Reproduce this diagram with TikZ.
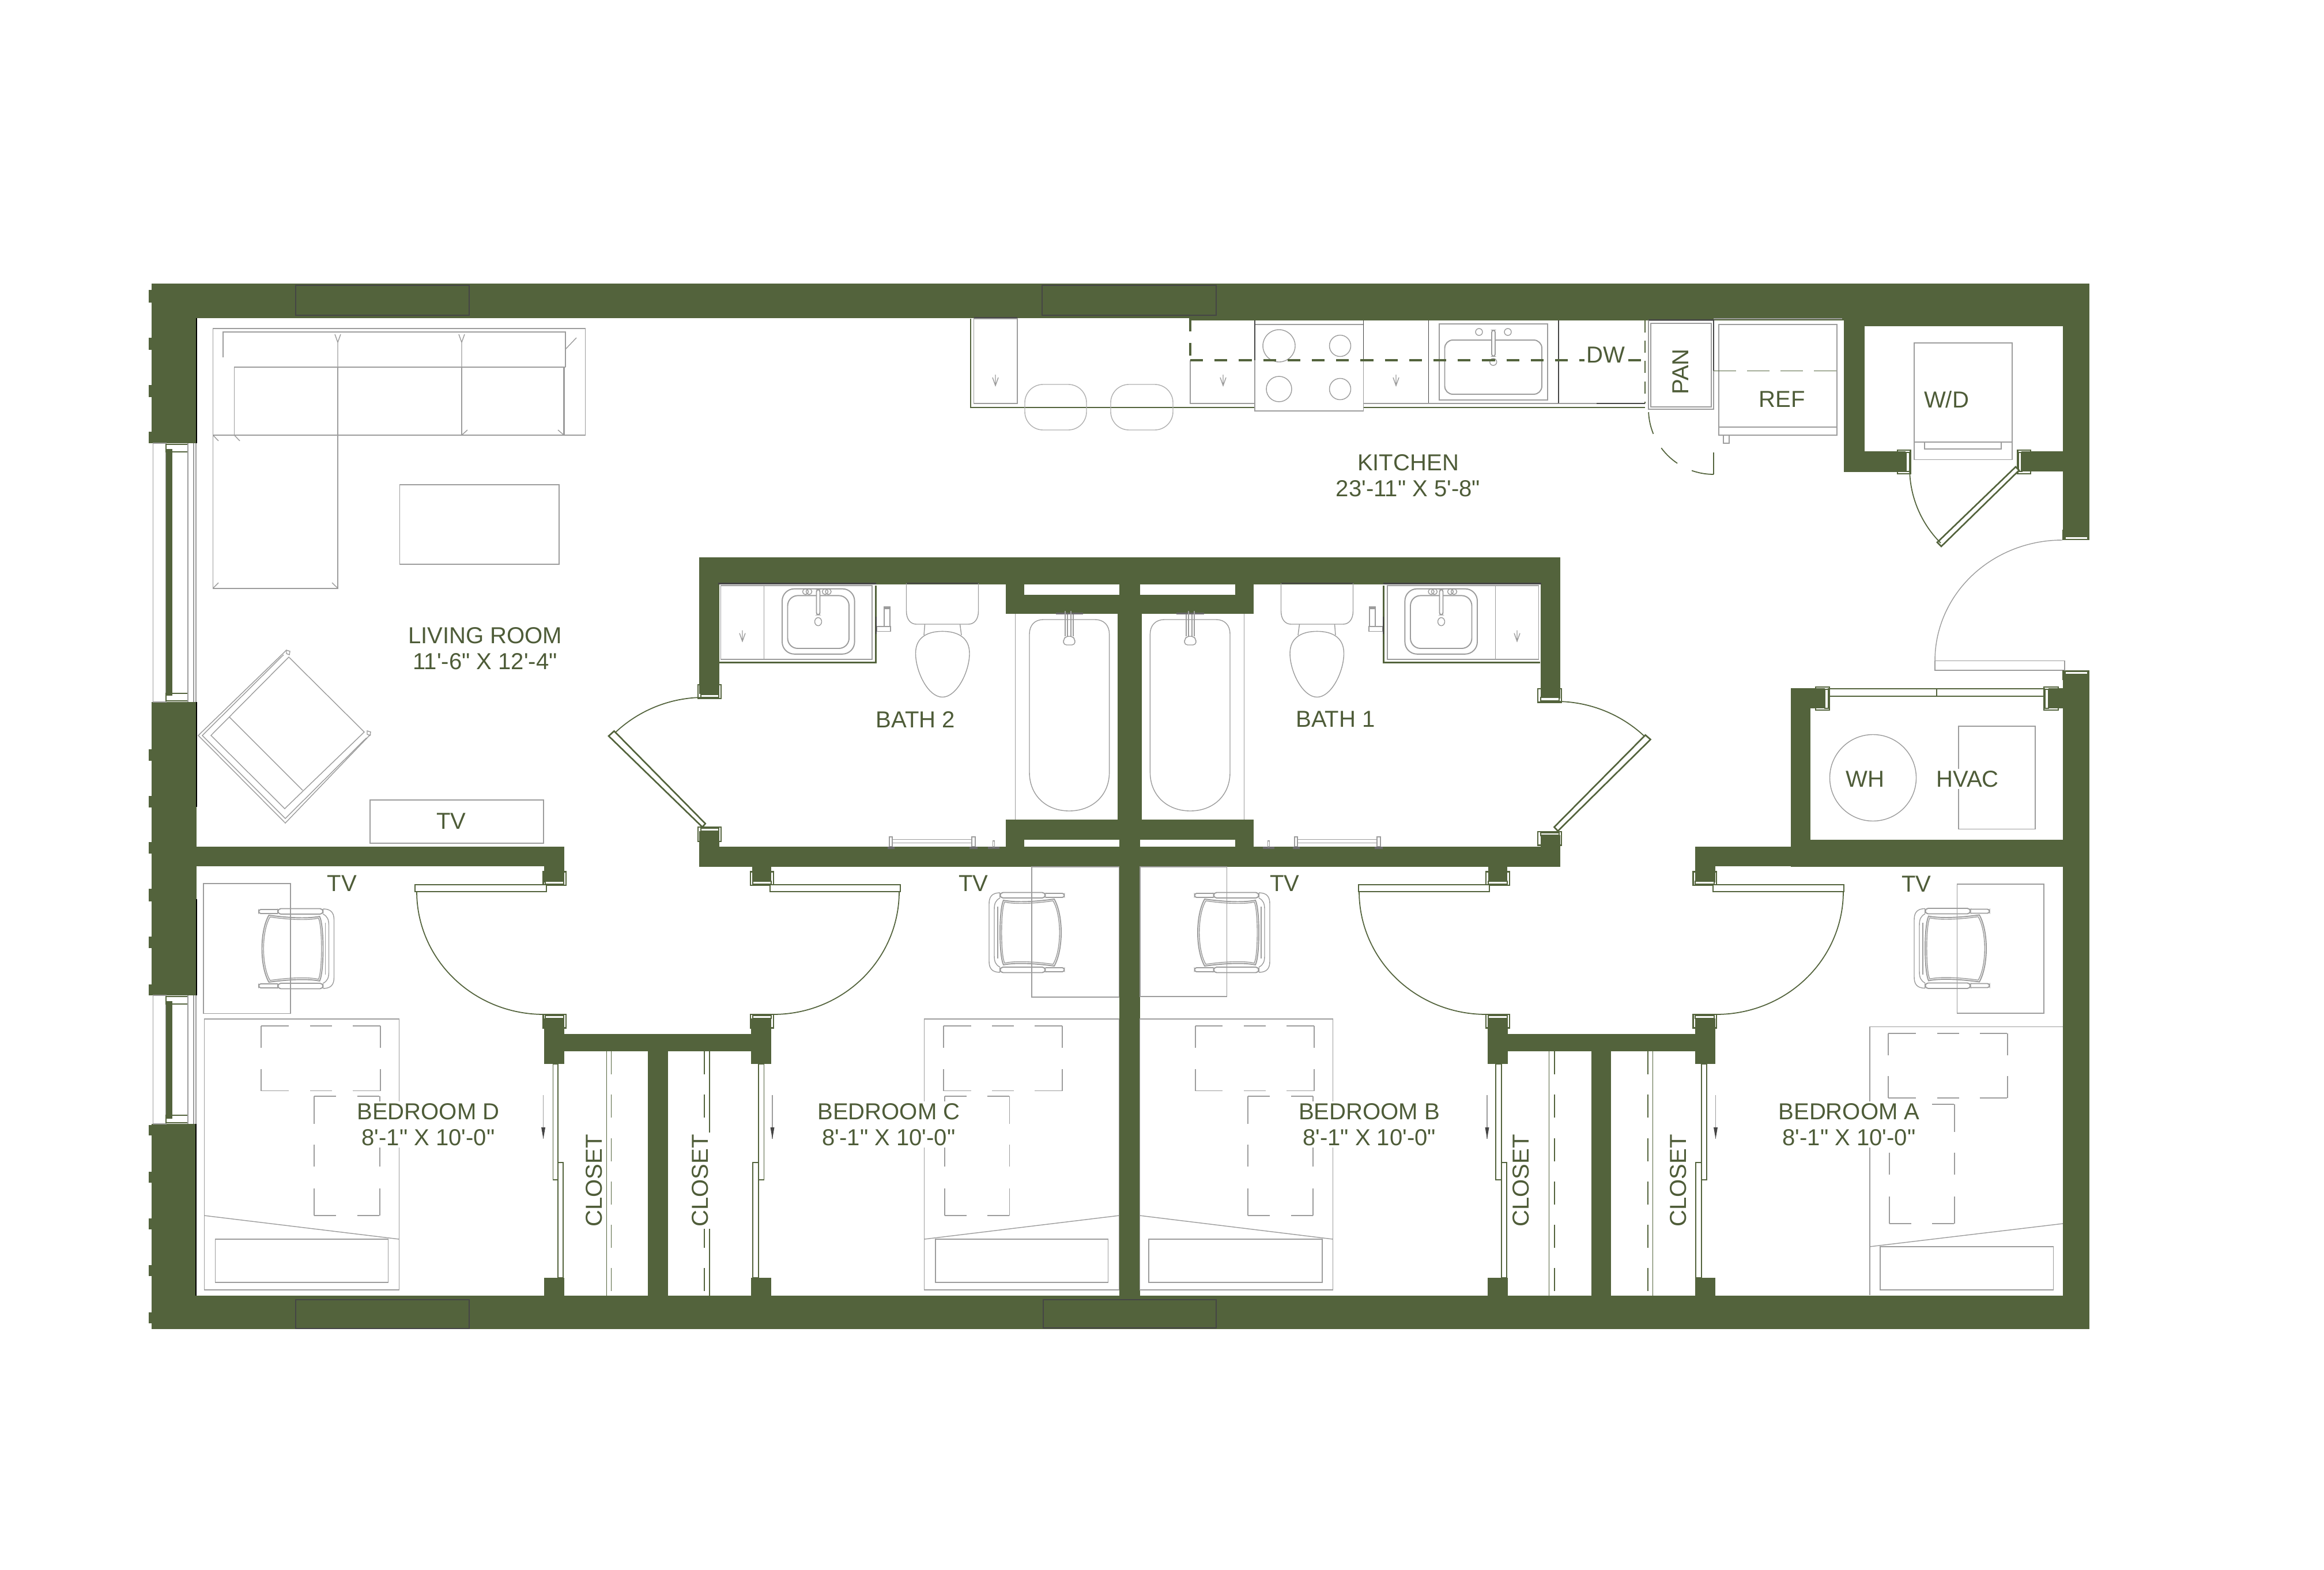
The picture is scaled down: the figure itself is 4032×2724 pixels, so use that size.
\documentclass[tikz,border=0pt]{standalone}
\usepackage{fontspec}
\newfontfamily\labfont{Liberation Sans}
\definecolor{wallc}{HTML}{53633C}
\definecolor{textc}{HTML}{4E5C38}
\definecolor{furn}{HTML}{9C9C9C}
\definecolor{darkl}{HTML}{454545}
\tikzset{
  wall/.style={fill=wallc,draw=none},
  gl/.style={draw=wallc,line width=0.75pt},
  glt/.style={draw=wallc,line width=0.5pt},
  fur/.style={draw=furn,line width=0.55pt},
  furt/.style={draw=furn,line width=0.4pt},
  dk/.style={draw=darkl,line width=0.6pt},
  lab/.style={font=\labfont\fontsize{11.4}{12.8}\selectfont,text=textc,inner sep=0pt,align=center},
  labw/.style={lab,fill=white,inner sep=1pt},
  dashA/.style={dash pattern=on 13.6pt off 10.5pt on 10.8pt off 10.2pt on 13.6pt off 40pt},
  dashB/.style={dash pattern=on 10.8pt off 10.4pt on 10.8pt off 40pt},
  dashC/.style={dash pattern=on 13.6pt off 10.2pt on 10.8pt off 10.8pt on 13.6pt off 40pt},
  dashD/.style={dash pattern=on 11.4pt off 10pt},
}
\newcommand\wl[4]{\fill[wall] (#1,#2) rectangle (#3,#4);}
\newcommand\jmb[8]{\draw[gl] (#1,#2) rectangle (#3,#4); \draw[gl,fill=white] (#5,#6) rectangle (#7,#8);}
\newcommand\swing[6]{\draw[#1] plot[domain=#5:#6,samples=36,smooth] ({#2+#4*cos(\x)},{#3+#4*sin(\x)});}
\newcommand\swingE[7]{\draw[#1] plot[domain=#6:#7,samples=36,smooth] ({#2+#4*cos(\x)},{#3+#5*sin(\x)});}
\newcommand\darr[3]{\draw[furt] (#1,#2)--(#1,#3) (#1-5,#3-14)--(#1,#3)--(#1+5,#3-14);}
\newcommand\slidearr[1]{\draw[furt] (#1,1900)--(#1,1976); \fill[darkl] (#1-3.5,1956)--(#1,1976)--(#1+3.5,1956)--cycle;}
\newcommand\dashrects[8]{% r1x1 r1y1 r1x2 r1y2 r2x1 r2y1 r2x2 r2y2
  \draw[fur,dashA] (#1,#2)--(#3,#2); \draw[fur,dashA] (#1,#4)--(#3,#4);
  \draw[fur,dashB] (#1,#2)--(#1,#4); \draw[fur,dashB] (#3,#2)--(#3,#4);
  \draw[fur,dashB] (#5,#6)--(#7,#6); \draw[fur,dashB] (#5,#8)--(#7,#8);
  \draw[fur,dashC] (#5,#6)--(#5,#8); \draw[fur,dashC] (#7,#6)--(#7,#8);}
\newcommand\chair[3]{%
  \begin{scope}[shift={(#1,#2)},xscale=#3]
    \draw[fur,rounded corners=1.5pt] (-32.5,-69.5) rectangle (46,-60);
    \draw[fur,rounded corners=1.5pt] (-32.5,69.5) rectangle (46,60);
    \draw[fur,rounded corners=1pt] (-32.5,-68) -- (-65.5,-68) -- (-65.5,-61) -- (-32.5,-61);
    \draw[fur,rounded corners=1pt] (-32.5,68) -- (-65.5,68) -- (-65.5,61) -- (-32.5,61);
    \draw[fur] (-48,-58) .. controls (-10,-53) and (20,-52) .. (40,-56) .. controls (48,-40) and (48,40) .. (40,56) .. controls (20,52) and (-10,53) .. (-48,58) .. controls (-64,30) and (-64,-30) .. (-48,-58) -- cycle;
    \draw[furt] (-46,-55) .. controls (-10,-50) and (20,-49) .. (38,-53) .. controls (45,-40) and (45,40) .. (38,53) .. controls (20,49) and (-10,50) .. (-46,55) .. controls (-61,30) and (-61,-30) .. (-46,-55) -- cycle;
    \draw[furt] (46,-69) .. controls (60,-69) and (65,-62) .. (65,-50) -- (65,50) .. controls (65,62) and (60,69) .. (46,69);
    \draw[furt] (46,-60) .. controls (54,-56) and (56,-50) .. (56,-40) -- (56,40) .. controls (56,50) and (54,56) .. (46,60);
    \draw[furt] (50,-45) -- (50,45);
  \end{scope}}
\newcommand\towel[1]{%
  \begin{scope}[shift={(#1,0)}]
    \draw[furt] (0,1452) rectangle (5,1469) (143,1452) rectangle (149,1469);
    \draw[fur] (5,1456.5) rectangle (143,1462.5);
    \fill[darkl!80] (-3,1469) rectangle (9,1473) (139,1469) rectangle (153,1473);
  \end{scope}}
\newcommand\fixtures{%
  % vanity
  \draw[gl] (1248,1149.4) -- (1519.6,1149.4) -- (1519.6,1016);
  \draw[dk,line width=0.8pt] (1246,1012.5) -- (1519.6,1012.5);
  \draw[fur] (1250.5,1016) rectangle (1513,1144);
  \draw[furt] (1325.7,1016) -- (1325.7,1144);
  \darr{1288}{1093.5}{1112.6}
  \draw[fur,rounded corners=6pt] (1357,1021.6) rectangle (1482.6,1134.8);
  \draw[fur,rounded corners=5pt] (1366.5,1033.4) rectangle (1473,1125);
  \draw[fur,fill=white,rounded corners=1pt] (1416.5,1023) rectangle (1422.5,1066.7);
  \draw[furt] (1419.5,1078.6) ellipse (6 and 7);
  \draw[furt] (1403.5,1026.5) ellipse (5 and 5) (1431.6,1026.5) ellipse (5 and 5) (1397.5,1026.5) ellipse (5 and 5) (1437,1026.5) ellipse (5 and 5);
  % paper holder
  \draw[furt] (1534,1056) rectangle (1544,1087) (1521.5,1087) rectangle (1545,1095.4);
  \fill[furn] (1533,1052) rectangle (1545,1056);
  \draw[dk] (1520,1070) -- (1520,1100);
  % toilet
  \draw[dk,line width=0.8pt] (1572.5,1012) -- (1697.5,1012);
  \draw[furt] (1572.5,1012) -- (1572.5,1060) .. controls (1572.5,1075) and (1580,1083) .. (1590,1083) -- (1680,1083) .. controls (1690,1083) and (1697.5,1075) .. (1697.5,1060) -- (1697.5,1012);
  \draw[furt] (1604.5,1083) -- (1603,1102) (1665.5,1083) -- (1668,1102);
  \draw[furt] (1635,1095.4) .. controls (1610,1095.4) and (1588.5,1105) .. (1588.5,1133.7) .. controls (1588.5,1165) and (1610,1209.5) .. (1635,1209.5) .. controls (1660,1209.5) and (1682,1165) .. (1682,1133.7) .. controls (1682,1105) and (1660,1095.4) .. (1635,1095.4) -- cycle;
  % tub
  \draw[furt] (1761.3,1065) -- (1761.3,1422);
  \draw[furt] (1786,1100) .. controls (1786,1085) and (1795,1075) .. (1810,1075) -- (1900,1075) .. controls (1915,1075) and (1924.6,1085) .. (1924.6,1100) -- (1924.6,1340) .. controls (1924.6,1380) and (1895,1407) .. (1855,1407) .. controls (1815,1407) and (1786,1380) .. (1786,1340) -- cycle;
  \fill[darkl!80] (1831.5,1063) rectangle (1879,1066);
  \draw[furt,fill=white] (1848,1060) -- (1848,1104) (1862,1066) -- (1862,1104) (1852,1066) -- (1852,1104) (1858,1060) -- (1858,1104);
  \draw[furt,fill=white,rounded corners=1.5pt] (1849,1104) -- (1861,1104) -- (1865,1110) -- (1865,1119) -- (1845,1119) -- (1845,1110) -- cycle;
}
\begin{document}
\begin{tikzpicture}[x=0.01cm,y=-0.01cm]
\useasboundingbox (0,0) rectangle (4032,2724);
% ---- exterior walls
\wl{263}{492}{3625}{552}
\wl{2063}{552}{3199}{556}
\wl{3199}{552}{3625}{566}
\wl{263}{552}{341}{769}
\wl{263}{1218}{341}{1727}
\wl{263}{1950}{341}{2306}
\wl{263}{2248}{3625}{2306}
\wl{3579}{552}{3625}{937}
\wl{3579}{1163}{3625}{2306}
% saw teeth on the left face
\foreach \a/\b in {503/525,586/607,668/689,749/769,1300/1320,1381/1401,1461/1481,1542/1564,1625/1645,1708/1727,1952/1970,2033/2052,2114/2133,2195/2214,2277/2296}{\fill[wall] (258,\a) rectangle (263,\b);}
% ---- laundry closet
\wl{3199}{552}{3235}{819}
\wl{3199}{783}{3306}{819}
\wl{3507}{783}{3580}{818}
% ---- mech closet
\wl{3107}{1194}{3141}{1503}
\wl{3107}{1194}{3166}{1229}
\wl{3554}{1194}{3579}{1229}
\wl{3107}{1457}{3625}{1504}
\wl{2941}{1469}{3141}{1503}
\wl{2941}{1503}{2976}{1531}
% ---- living bottom
\wl{263}{1469}{979}{1503}
\wl{944}{1503}{979}{1531}
% ---- bath block
\wl{1213}{967}{2707}{1014}
\wl{1213}{967}{1248}{1204}
\wl{2673}{967}{2707}{1212}
\wl{1213}{1442}{1248}{1504}
\wl{2673}{1449}{2707}{1504}
\wl{1213}{1469}{2707}{1504}
\wl{1745}{1014}{1777}{1065}
\wl{1745}{1032}{2175}{1065}
\wl{2143}{1014}{2175}{1065}
\wl{1745}{1422}{2175}{1457}
\wl{1745}{1422}{1777}{1469}
\wl{2143}{1422}{2175}{1469}
\wl{1942}{1014}{1978}{2248}
\wl{1939}{1065}{1981}{1422}
\wl{1305}{1504}{1338}{1531}
\wl{2582}{1504}{2615}{1531}
% ---- closet blocks
\wl{944}{1794}{1338}{1824}
\wl{944}{1767}{979}{1846}
\wl{1303}{1767}{1338}{1846}
\wl{1124}{1824}{1159}{2248}
\wl{944}{2217}{979}{2248}
\wl{1303}{2217}{1338}{2248}
\wl{2581}{1794}{2976}{1824}
\wl{2581}{1767}{2616}{1846}
\wl{2941}{1767}{2976}{1846}
\wl{2761}{1824}{2795}{2248}
\wl{2581}{2217}{2616}{2248}
\wl{2941}{2217}{2976}{2248}
% ---- windows in the walls
\draw[darkl,line width=0.75pt] (513,495) rectangle (814,547);
\draw[darkl,line width=0.75pt] (1808,495) rectangle (2110,547);
\draw[darkl,line width=0.75pt] (513,2255) rectangle (814,2305);
\draw[darkl,line width=0.75pt] (1810,2255) rectangle (2110,2304);
% left windows
\foreach \t/\b/\bart/\barb/\it/\ib in {769/1218/779/1207/784/1203,1727/1950/1737/1941/1742/1935}{
  \draw[furt] (265.5,\t) rectangle (288,\b);
  \fill[wall] (288,\bart) rectangle (299,\barb);
  \draw[glt] (288,\t+2) rectangle (326,\it);
  \draw[glt] (288,\ib) rectangle (326,\b-2);
  \draw[furt] (326,\t) -- (326,\b) (336,\t) -- (336,\b) (340,\t) -- (340,\b);
}
\draw[black,line width=0.4pt] (341,552) -- (341,769) (341,1218) -- (341,1400) (340,1950) -- (340,2248) (341,1560) -- (341,1727);
% ---- sofa
\draw[fur] (369.5,570) rectangle (1015.5,755);
\draw[fur] (387,620) -- (387,576) -- (981,576) -- (981,637);
\draw[fur] (981,637) -- (406.5,637) -- (406.5,755) -- (369.5,755);
\draw[fur,line width=0.75pt] (586,637) -- (586,1020.6);
\draw[fur,line width=0.75pt] (801,637) -- (801,755);
\draw[fur,line width=0.75pt] (978.5,637) -- (978.5,755);
\draw[fur] (369.5,755) rectangle (586,1020.6);
\draw[fur] (586,755) -- (1015.5,755);
\darr{586}{637}{594}
\darr{801}{637}{594}
\foreach \xa/\ya/\xb/\yb in {369.5/755/379/765, 406.5/755/416/765, 369.5/1020.6/379/1011, 586/1020.6/576/1011, 801/755/811/746, 978.5/755/968/746, 981/606/1000/586}{\draw[furt] (\xa,\ya)--(\xb,\yb);}
% coffee table, tv
\draw[fur] (693.5,841) rectangle (969.6,979);
\draw[fur] (642,1388) rectangle (943,1463);
% armchair
\draw[furt] (497,1128) -- (344,1276) -- (495,1428) -- (643,1274);
\draw[furt] (492,1136) -- (351,1276) -- (495,1420) -- (636,1280);
\draw[furt] (501,1140) -- (366,1276) -- (494,1403) -- (632,1270) -- cycle;
\draw[furt] (398,1244) -- (525,1371);
\draw[furt] (497,1128) -- (503,1130) -- (502,1136) -- (497,1134) -- cycle;
\draw[furt] (637,1268) -- (643,1270) -- (642,1276) -- (637,1274) -- cycle;
% ---- kitchen
\draw[gl] (1684,553) -- (1684,707) -- (2177,707);
\draw[gl] (2365.5,707) -- (2854,707);
\draw[furt,line width=0.55pt] (1689.5,700) rectangle (1765,553);
\draw[dk] (1689.5,551) -- (1765,551);
\darr{1727}{650}{669}
\draw[furt,draw=furn!80,rounded corners=9pt] (1778,667) rectangle (1885,746);
\draw[furt,draw=furn!80,rounded corners=9pt] (1927,667) rectangle (2035,746);
\draw[furt] (2065,625) -- (2065,700) -- (2177,700);
\darr{2122}{650}{669}
\draw[fur,fill=white] (2177,563) rectangle (2365.5,713);
\draw[dk,line width=0.5pt] (2177,556) -- (2177,625) (2365.5,556) -- (2365.5,625) (2478.5,556) -- (2478.5,700);
\draw[furt] (2219,600) circle (28) (2325,600) circle (18.5) (2219,675) circle (22) (2325,675) circle (18.5);
\draw[furt] (2365.5,700) -- (2478.5,700);
\darr{2422}{650}{669}
\draw[fur] (2497,562) rectangle (2685,694);
\draw[fur,rounded corners=4pt] (2506.5,590) rectangle (2675,684);
\draw[furt] (2478.5,700) -- (2703.6,700);
\draw[fur,fill=white,rounded corners=1pt] (2588,573) rectangle (2594,618);
\draw[furt] (2566,576) ellipse (6 and 6) (2616,576) ellipse (6 and 6) (2590.7,628) ellipse (6 and 6);
\draw[dk,line width=0.5pt] (2703.6,556) -- (2703.6,700);
\draw[gl,line width=0.9pt,dash pattern=on 6.3pt off 5.7pt] (2065,625) -- (2854,625);
\draw[gl,line width=0.9pt,dash pattern=on 6.3pt off 5.7pt] (2065,553) -- (2065,625);
\draw[glt,dash pattern=on 6pt off 4pt] (2854,556) -- (2854,700);
\draw[furt] (2703.6,700) -- (2854,700);
\draw[dk,line width=0.5pt] (2770,700) -- (2854,700);
\node[labw] (dw) at (2786,616) {DW};
% pantry, ref
\draw[fur] (2860,556) rectangle (2973,710);
\draw[fur] (2864,561) rectangle (2969,706);
\draw[dk,line width=0.5pt] (2860,555) -- (2973,555) -- (2973,643);
\swing{glt,dash pattern=on 11pt off 8pt}{2973}{710}{113}{90}{180}
\draw[glt] (2973,785) -- (2973,823);
\draw[fur] (2982,563) rectangle (3187,755);
\draw[fur] (2982,740.6) -- (3187,740.6);
\draw[furt] (2990,755) rectangle (3000,769);
\draw[furt] (2973,553) -- (3196,553);
\draw[glt,line width=0.42pt,dash pattern=on 11pt off 5.5pt] (2973,643.5) -- (3199,643.5);
\node[lab] (pan) at (2916,645) {\rotatebox{90}{PAN}};
\node[lab] (ref) at (3092,693) {REF};
% W/D
\draw[fur] (3321,595) rectangle (3491,797.5);
\draw[fur] (3321,767) -- (3491,767);
\draw[furt] (3339,767) rectangle (3472,779);
\node[lab] (wd) at (3377,693) {W/D};
\jmb{3292}{781}{3314.5}{822}{3306.4}{785}{3313}{818}
\jmb{3500.6}{781}{3523}{822}{3502}{785}{3507.5}{818}
\draw[gl,fill=white] (3497,810) -- (3503,816) -- (3368,948) -- (3361,941) -- cycle;
\swing{glt}{3497}{812}{184}{135}{180}
% entry door
\draw[fur,fill=white] (3357,1146.5) rectangle (3582,1163);
\swingE{furt}{3578}{1146}{221}{209}{180}{270}
\draw[glt,fill=white] (3583,931) rectangle (3622,936);
\draw[glt,fill=white] (3583,1165) rectangle (3622,1170);
\wl{3578}{919}{3582}{937}
\wl{3578}{1163}{3582}{1180}
% mech door + fixtures
\draw[gl,fill=white] (3172,1195) rectangle (3547,1208);
\draw[gl] (3360,1195) -- (3360,1208);
\jmb{3150}{1192}{3174}{1232}{3166}{1196}{3172.5}{1229}
\jmb{3546}{1192}{3571}{1232}{3547.5}{1196}{3554}{1229}
\draw[furt] (3249.5,1349.5) circle (75);
\draw[fur] (3398,1260) rectangle (3531,1438.5);
\node[lab] (wh) at (3236,1351.5) {WH};
\node[labw] (hvac) at (3413.5,1351.5) {HVAC};
% ---- baths
\fixtures
\begin{scope}[shift={(3920,0)},xscale=-1]
\fixtures
\end{scope}
\towel{1543}
\towel{2246}
\foreach \x in {1724,2201}{
  \fill[darkl!80] (\x-10,1469) rectangle (\x+10,1473);
  \draw[furt] (\x-1.5,1459) rectangle (\x+1.5,1469);
}
% bath 2 door
\jmb{1211}{1188}{1251}{1212}{1216}{1205}{1247}{1210}
\jmb{1211}{1435}{1251}{1460}{1216}{1437}{1247}{1442}
\draw[gl,fill=white] (1056,1277) -- (1065.5,1268.4) -- (1223.7,1429) -- (1218.6,1435) -- cycle;
\swing{glt}{1221}{1434}{224}{227}{270}
% bath 1 door
\jmb{2668}{1195}{2709}{1218.6}{2673}{1210}{2705}{1216}
\jmb{2668}{1443}{2709}{1466.6}{2673}{1445}{2705}{1449.5}
\draw[gl,fill=white] (2854.6,1275.3) -- (2863.5,1283) -- (2702.8,1441.8) -- (2696.4,1435) -- cycle;
\swing{glt}{2700}{1441}{224}{270}{313}
% ---- bedroom doors
\jmb{942.6}{1512.5}{982}{1536}{946}{1529}{978}{1534.5}
\jmb{942.6}{1760}{982}{1783.5}{946}{1762}{978}{1767}
\draw[gl,fill=white] (720,1535) rectangle (948,1547);
\swingE{glt}{943}{1547}{220}{213}{90}{180}
\jmb{1302}{1512.5}{1342}{1536}{1306}{1529}{1338}{1534.5}
\jmb{1302}{1760}{1342}{1783.5}{1306}{1762}{1338}{1767}
\draw[gl,fill=white] (1336,1535) rectangle (1562,1547);
\swingE{glt}{1342}{1547}{218}{213}{0}{90}
\jmb{2578}{1512.5}{2619}{1536}{2582}{1529}{2615}{1534.5}
\jmb{2578}{1760}{2619}{1783.5}{2582}{1762}{2615}{1767}
\draw[gl,fill=white] (2357,1535) rectangle (2584,1547);
\swingE{glt}{2578}{1547}{220}{213}{90}{180}
\jmb{2937.5}{1512.5}{2978}{1536}{2941}{1529}{2974}{1534.5}
\jmb{2937.5}{1760}{2978}{1783.5}{2941}{1762}{2974}{1767}
\draw[gl,fill=white] (2972,1535) rectangle (3199,1547);
\swingE{glt}{2978}{1547}{220}{213}{0}{90}
% ---- closet sliders and shelves
\draw[glt] (959.5,1846) rectangle (968,2047); \draw[glt] (968,2017) rectangle (977,2217);
\draw[glt] (1316,1846) rectangle (1325.5,2047); \draw[glt] (1306,2017) rectangle (1316,2217);
\draw[glt] (2595,1846) rectangle (2604.6,2047); \draw[glt] (2604.6,2017) rectangle (2614,2217);
\draw[glt] (2951.6,1846) rectangle (2961,2047); \draw[glt] (2942,2017) rectangle (2951.6,2217);
\slidearr{942.6}
\slidearr{1340}
\slidearr{2580}
\slidearr{2976.5}
\draw[glt] (1052.6,1824) -- (1052.6,2248);
\draw[glt] (1231,1824) -- (1231,2248);
\draw[glt] (2687.5,1824) -- (2687.5,2248);
\draw[glt] (2867.4,1824) -- (2867.4,2248);
\draw[glt,line width=0.42pt,dashD] (1060.7,1824) -- (1060.7,2248);
\draw[glt,line width=0.42pt,dashD] (1222,1824) -- (1222,2248);
\draw[glt,line width=0.42pt,dashD] (2697,1824) -- (2697,2248);
\draw[glt,line width=0.42pt,dashD] (2859,1824) -- (2859,2248);
% ---- rugs, chairs
\draw[furt] (353,1533) rectangle (504,1758.6);
\draw[furt] (1790,1504) rectangle (1941.6,1730);
\draw[furt] (1978,1504) rectangle (2128.5,1729);
\draw[furt] (3395.5,1534) rectangle (3546,1758);
\chair{514.5}{1646}{1}
\chair{1781}{1618}{-1}
\chair{2138}{1618}{1}
\chair{3386}{1645.5}{-1}
% ---- beds
\foreach \a/\b/\pa/\pb/\fa/\fb in {354.4/692.5/373.5/673.5/2109/2150, 1603.6/1941.6/1622.7/1922.5/2150/2109, 1977.3/2312.5/1993/2294/2109/2150}{
  \draw[furt] (\a,1768) rectangle (\b,2238);
  \draw[fur] (\pa,2150) rectangle (\pb,2225);
  \draw[furt] (\a,\fa) -- (\b,\fb);
}
\draw[furt] (3243.8,2247) -- (3243.8,1781.3) -- (3579,1781.3);
\draw[furt] (3262,2163) rectangle (3562.5,2238);
\draw[furt] (3243.8,2163) -- (3579,2123);
\dashrects{453.4}{1780}{660}{1892.5}{545}{1902}{659}{2109}
\dashrects{1636.7}{1780}{1843.4}{1892.5}{1638.6}{1902}{1751.5}{2109}
\dashrects{2073.6}{1780}{2279.6}{1892.5}{2165.4}{1902}{2277.7}{2109}
\dashrects{3276}{1792.6}{3483}{1904.7}{3277.7}{1916}{3391}{2123}
% ---- labels
\node[lab] (living) at (841.7,1125) {LIVING ROOM\\11'-6" X 12'-4"};
\node[lab] (kitchen) at (2443,825) {KITCHEN\\23'-11" X 5'-8"};
\node[lab] (bath2) at (1588.5,1248) {BATH 2};
\node[lab] (bath1) at (2317,1248) {BATH 1};
\node[lab] (tv1) at (783,1424.5) {TV};
\node[lab] (tv2) at (593.5,1533) {TV};
\node[lab] (tv3) at (1689,1533) {TV};
\node[lab] (tv4) at (2229,1533) {TV};
\node[lab] (tv5) at (3325,1534) {TV};
\node[labw] (bedd) at (743,1951) {BEDROOM D\\8'-1" X 10'-0"};
\node[labw] (bedc) at (1542,1951) {BEDROOM C\\8'-1" X 10'-0"};
\node[labw] (bedb) at (2375.6,1951) {BEDROOM B\\8'-1" X 10'-0"};
\node[labw] (beda) at (3208,1951) {BEDROOM A\\8'-1" X 10'-0"};
\node[labw] (cl1) at (1030.6,2048.6) {\rotatebox{90}{CLOSET}};
\node[labw] (cl2) at (1214.7,2048.6) {\rotatebox{90}{CLOSET}};
\node[labw] (cl3) at (2638.4,2048.6) {\rotatebox{90}{CLOSET}};
\node[labw] (cl4) at (2911.4,2048.6) {\rotatebox{90}{CLOSET}};
\end{tikzpicture}
\end{document}
